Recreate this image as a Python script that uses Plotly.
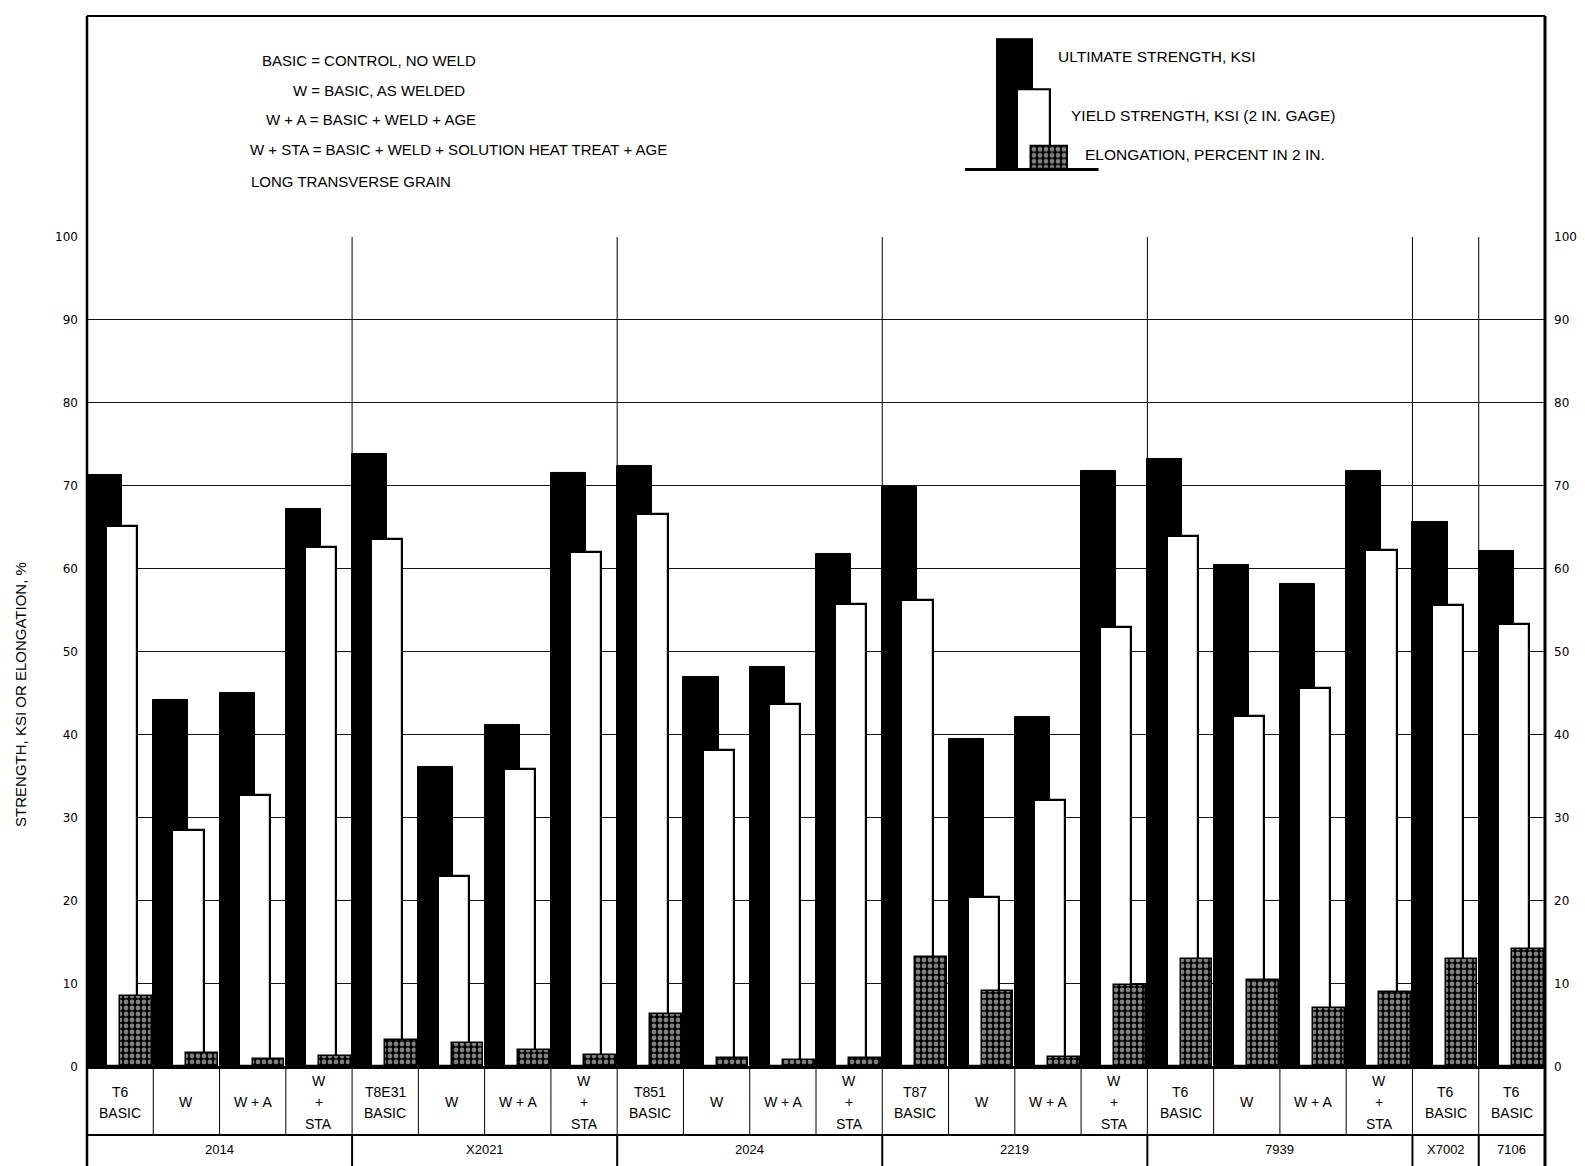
import plotly.graph_objects as go

# ---------------- data ----------------
alloys = ["2014", "X2021", "2024", "2219", "7939", "X7002", "7106"]
alloy_sizes = [4, 4, 4, 4, 4, 1, 1]
conditions = [
    "T6|BASIC", "W", "W + A", "W|+|STA",
    "T8E31|BASIC", "W", "W + A", "W|+|STA",
    "T851|BASIC", "W", "W + A", "W|+|STA",
    "T87|BASIC", "W", "W + A", "W|+|STA",
    "T6|BASIC", "W", "W + A", "W|+|STA",
    "T6|BASIC",
    "T6|BASIC",
]
ultimate_ksi = [71.3, 44.2, 45.0, 67.2, 73.8, 36.1, 41.2, 71.5, 72.4, 47.0, 48.1,
                61.8, 69.8, 39.5, 42.1, 71.8, 73.2, 60.4, 58.2, 71.8, 65.6, 62.2]
yield_ksi = [65.2, 28.5, 32.7, 62.6, 63.6, 23.0, 35.9, 62.0, 66.6, 38.2, 43.7,
             55.8, 56.2, 20.4, 32.1, 53.0, 64.0, 42.3, 45.6, 62.3, 55.6, 53.3]
elongation_pct = [8.5, 1.6, 0.9, 1.2, 3.2, 2.8, 2.0, 1.4, 6.3, 1.0, 0.8,
                  1.0, 13.2, 9.1, 1.1, 9.8, 13.0, 10.4, 7.0, 9.0, 13.0, 14.1]
y_ticks = [0, 10, 20, 30, 40, 50, 60, 70, 80, 90, 100]

notes = [
    "BASIC = CONTROL, NO WELD",
    "W = BASIC, AS WELDED",
    "W + A = BASIC + WELD + AGE",
    "W + STA = BASIC + WELD + SOLUTION HEAT TREAT + AGE",
    "LONG TRANSVERSE GRAIN",
]
key_labels = ["ULTIMATE STRENGTH, KSI", "YIELD STRENGTH, KSI (2 IN. GAGE)",
              "ELONGATION, PERCENT IN 2 IN."]

# ---------------- geometry helpers ----------------
OX, OY = 8, 8             # default page body margin
FW, FH = 1569, 1166
L, R = 87, 1550           # plot frame in screen px
Y0, Y100 = 1065.5, 236.5  # screen y of 0 and 100
SY, BY = 0.9875, 6.75     # observed vertical screen mapping of page px


def px(x):
    return (x - L) / (R - L)


def py_page(p):
    return (OY + FH - p) / FH


def py(t):
    return py_page((t - BY) / SY)


TXT_FONT = "Liberation Sans, Arial, sans-serif"
NUM_FONT = "DejaVu Sans, Verdana, sans-serif"

xs = list(range(len(conditions)))

fig = go.Figure()
fig.add_bar(x=xs, y=ultimate_ksi, offset=-0.5, width=0.53,
            marker=dict(color="black", line=dict(color="black", width=1)),
            name="Ultimate")
fig.add_bar(x=xs, y=yield_ksi, offset=-0.21, width=0.47,
            marker=dict(color="white", line=dict(color="black", width=2.2)),
            name="Yield")
speckle = dict(shape=".", fgcolor="white", bgcolor="black", size=6,
               solidity=0.5, fillmode="overlay")
fig.add_bar(x=xs, y=elongation_pct, offset=0.0, width=0.48,
            marker=dict(color="black", line=dict(color="black", width=1.5),
                        pattern=speckle),
            name="Elongation")

# dummy trace to carry the right-side axis
fig.add_scatter(x=[None], y=[None], yaxis="y3", showlegend=False, hoverinfo="skip")

# legend key (small bar sketch, top right)
key_x = [50, 68.5, 84.5]
key_h = [131, 80, 23]
key_w = [36, 33, 37]
fig.add_bar(x=[key_x[0]], y=[key_h[0]], width=[key_w[0]], xaxis="x2", yaxis="y2",
            marker=dict(color="black", line=dict(color="black", width=1)))
fig.add_bar(x=[key_x[1]], y=[key_h[1]], width=[key_w[1]], xaxis="x2", yaxis="y2",
            marker=dict(color="white", line=dict(color="black", width=2.2)))
fig.add_bar(x=[key_x[2]], y=[key_h[2]], width=[key_w[2]], xaxis="x2", yaxis="y2",
            marker=dict(color="black", line=dict(color="black", width=1.5), pattern=speckle))

ydom = [py(Y0), py(Y100)]
KX0, KX1 = 968, 1102

fig.update_layout(
    width=FW, height=FH,
    margin=dict(l=L - OX, r=OX + FW - R, t=0, b=0, pad=0),
    paper_bgcolor="white", plot_bgcolor="rgba(0,0,0,0)",
    barmode="overlay", bargap=0, showlegend=False,
    xaxis=dict(range=[-0.5, len(xs) - 0.5], showticklabels=False, showgrid=False,
               zeroline=False, showline=True, linecolor="black", linewidth=2.5,
               ticks="", fixedrange=True),
    yaxis=dict(domain=ydom, range=[0, 100], tickvals=y_ticks, showgrid=True,
               gridcolor="#111", gridwidth=1.4, zeroline=False, showline=False,
               ticks="", ticklabelstandoff=8,
               tickfont=dict(family=NUM_FONT, size=12, color="black")),
    yaxis3=dict(overlaying="y", side="right", anchor="x", range=[0, 100],
                tickvals=y_ticks, showgrid=False, zeroline=False, showline=False,
                ticks="", ticklabelstandoff=8,
                tickfont=dict(family=NUM_FONT, size=12, color="black")),
    xaxis2=dict(domain=[px(KX0), px(KX1)], range=[0, 134], visible=False,
                anchor="y2"),
    yaxis2=dict(domain=[py(169), py(38)], range=[0, 131], visible=False,
                anchor="x2"),
)

shapes = []
TOPP = py_page(9)
# outer frame
shapes.append(dict(type="line", xref="paper", yref="paper", x0=0, x1=0, y0=0, y1=TOPP,
                   line=dict(color="black", width=2.5)))
shapes.append(dict(type="line", xref="paper", yref="paper", x0=1, x1=1, y0=0, y1=TOPP,
                   line=dict(color="black", width=3)))
shapes.append(dict(type="line", xref="paper", yref="paper", x0=0, x1=1, y0=TOPP, y1=TOPP,
                   line=dict(color="black", width=2)))
# table: bottom of condition row
shapes.append(dict(type="line", xref="paper", yref="paper", x0=0, x1=1, y0=py(1134), y1=py(1134),
                   line=dict(color="black", width=2)))
# condition dividers
for i in range(1, len(xs)):
    shapes.append(dict(type="line", xref="x", yref="paper", x0=i - 0.5, x1=i - 0.5,
                       y0=py(1134), y1=py(Y0), line=dict(color="black", width=1)))
# alloy dividers (table and plot)
pos = 0
bounds = []
for n in alloy_sizes[:-1]:
    pos += n
    bounds.append(pos - 0.5)
for b in bounds:
    shapes.append(dict(type="line", xref="x", yref="paper", x0=b, x1=b,
                       y0=0, y1=py(1134), line=dict(color="black", width=2)))
    shapes.append(dict(type="line", xref="x", yref="y", x0=b, x1=b, y0=0, y1=100,
                       layer="below", line=dict(color="black", width=1)))
# legend key baseline
shapes.append(dict(type="line", xref="paper", yref="paper", x0=px(KX0), x1=px(KX1),
                   y0=py(169), y1=py(169), line=dict(color="black", width=3)))
fig.update_layout(shapes=shapes)

ann = []
# condition labels
ROW_C, LINE_H = 1101.5, 21.7
for i, lab in enumerate(conditions):
    lines = lab.split("|")
    n = len(lines)
    for k, t in enumerate(lines):
        yy = ROW_C + (k - (n - 1) / 2) * LINE_H
        ann.append(dict(x=i, y=py(yy), xref="x", yref="paper", text=t, showarrow=False,
                        xanchor="center", yanchor="middle",
                        font=dict(family=TXT_FONT, size=14, color="black")))
# alloy labels
start = 0
for a, n in zip(alloys, alloy_sizes):
    cx = start + (n - 1) / 2
    ann.append(dict(x=cx, y=py(1149), xref="x", yref="paper", text=a, showarrow=False,
                    xanchor="center", yanchor="middle",
                    font=dict(family=TXT_FONT, size=13, color="black")))
    start += n
# notes (top left)
note_x = [261, 292, 265, 249, 250]
note_y = [60, 90, 119, 149, 181]
for t, xx, yy in zip(notes, note_x, note_y):
    ann.append(dict(x=px(xx), y=py(yy), xref="paper", yref="paper", text=t, showarrow=False,
                    xanchor="left", yanchor="middle",
                    font=dict(family=TXT_FONT, size=15, color="black")))
# key labels
key_tx = [1059, 1072, 1086]
key_ty = [56, 115, 154]
for t, xx, yy in zip(key_labels, key_tx, key_ty):
    ann.append(dict(x=px(xx), y=py(yy), xref="paper", yref="paper", text=t, showarrow=False,
                    xanchor="left", yanchor="middle",
                    font=dict(family=TXT_FONT, size=15.5, color="black")))
# y-axis title
ann.append(dict(x=px(20), y=py(694), xref="paper", yref="paper",
                text="STRENGTH, KSI OR ELONGATION, %", textangle=-90, showarrow=False,
                xanchor="center", yanchor="middle",
                font=dict(family=TXT_FONT, size=15, color="black")))
fig.update_layout(annotations=ann)

fig.write_html("out.html")
